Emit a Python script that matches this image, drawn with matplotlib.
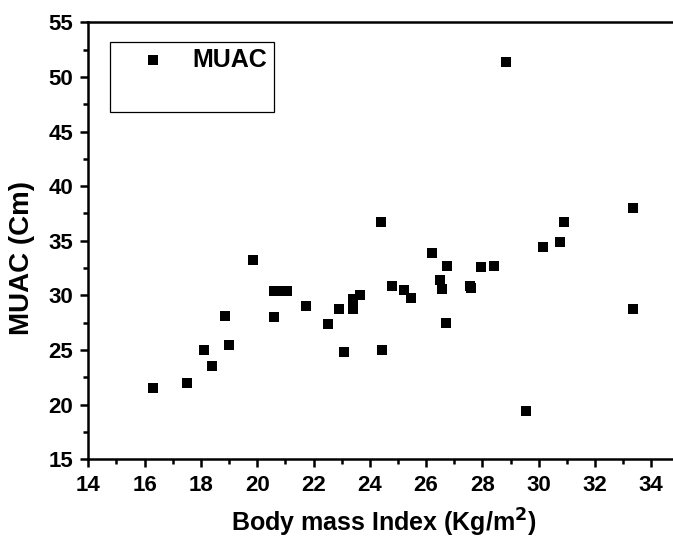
import numpy as np
import matplotlib.pyplot as plt
from matplotlib.patches import Rectangle
from matplotlib.ticker import MultipleLocator

# -------------------- Data --------------------

bmi = [16.3, 17.5, 18.1, 18.4, 18.85, 19.0, 19.85, 20.6, 20.6, 20.85, 21.05,
       21.75, 22.5, 23.1, 22.9, 23.4, 23.4, 23.65, 24.4, 24.45, 24.8, 25.2,
       25.45, 26.2, 26.5, 26.55, 26.75, 26.7, 27.55, 27.6, 27.95, 28.4, 28.85,
       29.55, 30.15, 30.75, 30.9, 33.35, 33.35]
muac = [21.5, 22.0, 25.0, 23.5, 28.1, 25.5, 33.2, 28.0, 30.4, 30.4, 30.4,
        29.0, 27.4, 24.8, 28.8, 28.8, 29.7, 30.0, 36.7, 25.0, 30.9, 30.5,
        29.8, 33.9, 31.4, 30.6, 32.7, 27.5, 30.9, 30.7, 32.6, 32.7, 51.4,
        19.4, 34.4, 34.9, 36.7, 38.0, 28.8]

# -------------------- Figure --------------------

plt.rcParams['font.family'] = ['Liberation Sans', 'DejaVu Sans']
plt.rcParams['font.weight'] = 'bold'

fig = plt.figure(figsize=(6.73, 5.44), dpi=100)
ax = fig.add_axes([0.1312, 0.1557, 0.8784, 0.8033])

ax.scatter(bmi, muac, marker='s', s=55, color='black', linewidths=0,
           label='MUAC', zorder=3)

ax.set_xlim(14, 35)
ax.set_ylim(15, 55)
ax.xaxis.set_major_locator(MultipleLocator(2))
ax.xaxis.set_minor_locator(MultipleLocator(1))
ax.yaxis.set_major_locator(MultipleLocator(5))
ax.yaxis.set_minor_locator(MultipleLocator(2.5))

for s in ax.spines.values():
    s.set_linewidth(1.8)
ax.tick_params(which='major', direction='out', length=6, width=1.8,
               labelsize=16, pad=5)
ax.tick_params(which='minor', direction='out', length=3.5, width=1.8)

ax.set_xlabel('Body mass Index (Kg/m$^\\mathbf{2}$)', fontsize=18,
              fontweight='bold', labelpad=8)
ax.set_ylabel('MUAC (Cm)', fontsize=20, fontweight='bold')
ax.yaxis.set_label_coords(-0.09, 0.46)

# Legend box (Origin style, taller than its content)
ax.add_patch(Rectangle((0.0372, 0.795), 0.2765, 0.16, transform=ax.transAxes,
                       fill=False, edgecolor='black', linewidth=0.9,
                       zorder=4))
ax.legend(loc='upper left', bbox_to_anchor=(0.05, 0.965), frameon=False,
          prop={'size': 18, 'weight': 'bold'}, handletextpad=0.6,
          markerscale=1.0, borderaxespad=0)

fig.savefig('out.png', dpi=100)
